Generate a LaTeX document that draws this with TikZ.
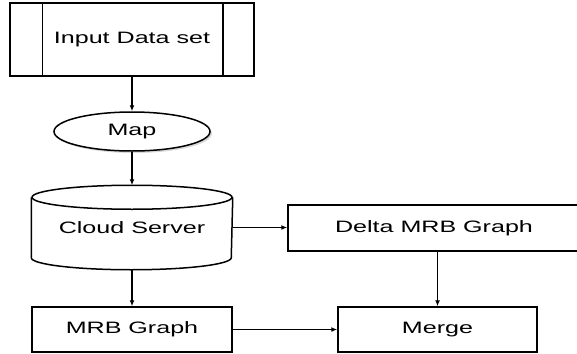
\documentclass[tikz,border=0pt]{standalone}
\usepackage{fontspec}
\setmainfont[FakeStretch=1.52]{Liberation Sans}
\usetikzlibrary{arrows.meta}
\usetikzlibrary{calc}
\usetikzlibrary{shapes.geometric}
\usetikzlibrary{shadows}

\begin{document}
\begin{tikzpicture}[x=1pt, y=-1pt, line width=1.5pt,
    font=\fontsize{16.5}{19}\selectfont,
    box/.style={draw, rectangle, inner sep=0pt},
    flow/.style={-{Latex[length=6pt, width=5pt]}, line width=1.3pt}]
  \useasboundingbox (0,0) rectangle (577,353);

  % input data set, boxed with two side bars
  \node [box, minimum width=244pt, minimum height=73pt] (input) at (132,39.5) {Input Data set};
  \draw ($(input.north west)+(33pt,0pt)$) -- ($(input.south west)+(33pt,0pt)$);
  \draw ($(input.north east)+(-32pt,0pt)$) -- ($(input.south east)+(-32pt,0pt)$);

  \node [draw, ellipse, fill=white, inner sep=0pt, minimum width=156pt, minimum height=39pt,
         drop shadow={shadow xshift=2pt, shadow yshift=-2pt, opacity=0.3}] (map) at (132,131.5) {Map};

  % cloud server drawn as a cylinder round an empty node
  \node [minimum width=200pt, minimum height=83pt, inner sep=0pt] (cloud) at (132,227.5) {Cloud Server};
  \draw ($(cloud.north west)+(0pt,-12pt)$) -- ($(cloud.south west)+(0pt,12pt)$)
    arc [start angle=180, end angle=360, x radius=100pt, y radius=12pt]
    -- ($(cloud.north east)+(0pt,-12pt)$);
  \draw ($(cloud.north)+(0pt,-12pt)$) ellipse [x radius=100pt, y radius=12pt];

  \node [box, minimum width=292pt, minimum height=46pt] (delta) at (434,228) {Delta MRB Graph};
  \node [box, minimum width=200pt, minimum height=45pt] (mrb)   at (132,329.5) {MRB Graph};
  \node [box, minimum width=199pt, minimum height=45pt] (merge) at (437.5,329.5) {Merge};

  \draw [flow] (input) -- (map);
  \draw [flow] (map) -- (cloud);
  \draw [flow] (cloud) -- (mrb);
  \draw [flow] (cloud.east) -- (cloud.east -| delta.west);
  \draw [flow] (merge.north |- delta.south) -- (merge.north);
  \draw [flow] (mrb) -- (merge);
\end{tikzpicture}
\end{document}
